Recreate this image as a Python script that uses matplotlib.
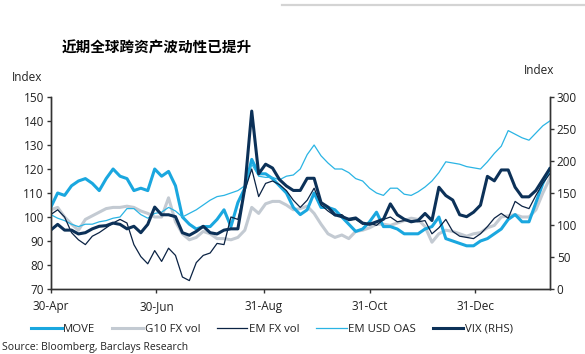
import matplotlib
matplotlib.use("Agg")
import matplotlib.pyplot as plt
import matplotlib.dates as mdates
from matplotlib.lines import Line2D
import numpy as np
import pandas as pd

plt.rcParams['font.family'] = ['Open Sans', 'DejaVu Sans']

# every 4 days from 30-Apr-2015
dates = pd.date_range("2015-04-30", periods=73, freq="4D")

move = [104, 110, 109, 113, 115, 116, 114, 111, 116, 120, 117, 116, 111, 112, 111, 120,
        117, 119, 113, 100, 97, 95, 96, 96, 99, 103, 96, 106, 112, 124, 118, 118,
        116, 113, 110, 104, 101, 103, 110, 104, 104, 103, 100, 97, 94, 95, 98, 102,
        96, 96, 95, 93, 93, 93, 95, 96, 100, 91, 90, 89, 88, 88, 90, 91,
        93, 95, 99, 101, 98, 98, 106, 114, 120]

g10_fx = [103, 104, 100, 97, 94.5, 99, 100.5, 102, 103.5, 104, 104, 104.5, 104, 102.5, 101.5, 100,
          100, 108, 98, 93, 90.5, 91.5, 94, 93, 91, 91, 90.5, 91.5, 94.5, 104, 101.5, 105.5,
          106.5, 106.5, 105, 103, 103.5, 104.5, 101.5, 97, 93, 91.5, 92.5, 91, 94, 94.5, 95.5, 97,
          97, 96.5, 97.5, 98.5, 99.5, 99, 96, 89.5, 93, 94.5, 94, 93, 92, 93,
          93.5, 95.5, 96.5, 100, 100.5, 101, 100, 100, 103, 110, 116]

em_fx = [101, 103, 100, 93.5, 90.5, 88.5, 92, 93.5, 95.5, 97.5, 99, 97.5, 88.5, 83.5, 80.5, 86,
         81.5, 87, 84, 75, 73.5, 81, 84, 85, 89, 88.5, 100, 99, 111, 120, 108.5, 114,
         115, 113.5, 111, 107, 104, 107, 112, 105, 102.5, 100.5, 101, 98.5, 99, 97, 97.5, 96.5,
         99, 100, 98, 98.5, 98.5, 98, 98.5, 93, 95.5, 99, 94, 92, 91.5, 91,
         93, 96, 99.5, 101.5, 99.5, 106.5, 104.5, 103.5, 109, 114, 118]

em_oas = [101, 99.5, 98.5, 97, 96, 97, 97, 98, 98.5, 99.5, 100, 103.5, 103.5, 101, 99.5, 101.5,
          102, 104, 102.5, 100, 101.5, 103, 105, 107, 108.5, 109, 110, 111, 113, 122, 117, 116.5,
          116.5, 115.5, 117, 117.5, 120, 126, 130, 125.5, 122.5, 120, 120, 118.5, 116, 115, 112, 110,
          109, 112, 112, 109.5, 109, 110.5, 112.5, 115, 118.5, 123, 122.5, 122, 121, 120.5,
          120, 123, 126.5, 129.5, 136, 134.5, 133, 132, 135, 138, 140]

vix_rhs = [92, 101, 92, 92, 86, 88, 94, 98, 99, 103, 101, 94, 98, 88, 101, 128,
           116, 116, 113, 88, 84, 90, 98, 88, 86, 92, 94, 94, 158, 278, 180, 195,
           189, 171, 161, 154, 154, 173, 173, 135, 128, 116, 113, 109, 111, 103, 101, 105,
           109, 133, 116, 109, 105, 107, 118, 107, 159, 146, 139, 116, 113, 120,
           131, 176, 169, 186, 186, 159, 144, 144, 154, 171, 188]

names = ["MOVE", "G10 FX vol", "EM FX vol", "EM USD OAS", "VIX (RHS)"]
colors = ["#1aa7df", "#c3cad2", "#0b2344", "#2ab4e4", "#0c3158"]

fig = plt.figure(figsize=(5.85, 3.54), dpi=100)
ax = fig.add_axes([0.0867, 0.1836, 0.8531, 0.5424])
ax2 = ax.twinx()

ax.plot(dates, g10_fx, color=colors[1], lw=2.2, zorder=2)
ax.plot(dates, move, color=colors[0], lw=2.2, zorder=3)
ax.plot(dates, em_oas, color=colors[3], lw=0.9, zorder=4)
ax.plot(dates, em_fx, color=colors[2], lw=0.9, zorder=5)
ax2.plot(dates, vix_rhs, color=colors[4], lw=2.2)

ax.set_xlim(pd.Timestamp("2015-04-30"), pd.Timestamp("2016-02-12"))
ax.set_ylim(70, 150)
ax.set_yticks(np.arange(70, 151, 10))
ax2.set_ylim(0, 300)
ax2.set_yticks(np.arange(0, 301, 50))

ticks = pd.to_datetime(["2015-04-30", "2015-06-30", "2015-08-31", "2015-10-31", "2015-12-31"])
ax.set_xticks(ticks)
ax.xaxis.set_major_formatter(mdates.DateFormatter("%d-%b"))

for a in (ax, ax2):
    a.spines['top'].set_visible(False)
    for s in ('left', 'right', 'bottom'):
        a.spines[s].set_color("#333333")
        a.spines[s].set_linewidth(1.0)
    a.tick_params(direction='out', length=3, width=1, color="#333333",
                  labelsize=8.5, labelcolor="#222222", pad=2)
ax.tick_params(axis='x', pad=5)

fig.text(0.02, 0.78, "Index", fontsize=8.5, color="#222222", va='center')
fig.text(0.895, 0.80, "Index", fontsize=8.5, color="#222222", va='center')
fig.text(0.106, 0.867, "近期全球跨资产波动性已提升", fontsize=10.5, fontweight='bold',
         family=['Noto Sans CJK SC', 'DejaVu Sans'], va='center')

handles = [Line2D([], [], color=colors[0], lw=2.2),
           Line2D([], [], color=colors[1], lw=2.2),
           Line2D([], [], color=colors[2], lw=0.9),
           Line2D([], [], color=colors[3], lw=0.9),
           Line2D([], [], color=colors[4], lw=2.2)]
fig.legend(handles, names, loc='center', bbox_to_anchor=(0.465, 0.07), ncol=5,
           frameon=False, fontsize=8.2, handlelength=2.7, handletextpad=0.15,
           columnspacing=1.45, labelcolor="#222222")

fig.text(0.004, 0.002, "Source: Bloomberg, Barclays Research", fontsize=7.5, color="#222222",
         va='bottom')
fig.add_artist(Line2D([0.482, 1.0], [0.985, 0.985], color="#d4d4d4", lw=1.6))

fig.savefig("out.png", dpi=100)
